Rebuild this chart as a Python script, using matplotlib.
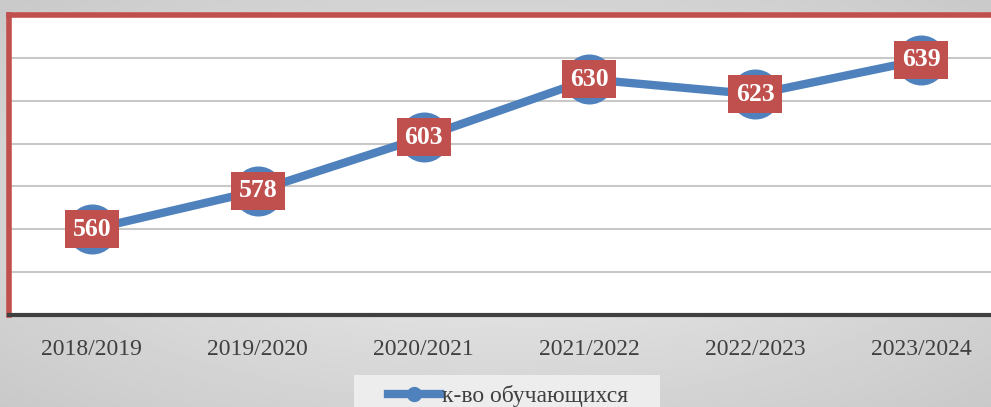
import numpy as np
import matplotlib.pyplot as plt

years = ['2018/2019', '2019/2020', '2020/2021', '2021/2022', '2022/2023', '2023/2024']
students = [560, 578, 603, 630, 623, 639]
series_name = 'к-во обучающихся'

blue = '#4F81BD'
red = '#C0504D'

plt.rcParams['font.family'] = ['Liberation Serif', 'DejaVu Serif']

fig = plt.figure(figsize=(9.91, 4.07), dpi=100)

# gray radial background
bg = fig.add_axes([0, 0, 1, 1], zorder=0)
yy, xx = np.mgrid[0:1:200j, 0:1:400j]
r = np.sqrt(((xx - 0.5) / 0.9) ** 2 + ((yy - 0.5) / 0.9) ** 2)
bg.imshow(0.93 - 0.18 * r, cmap='gray', vmin=0, vmax=1, aspect='auto', extent=[0, 1, 0, 1])
bg.axis('off')

# legend backing box
fig.patches.append(plt.Rectangle((354 / 991, 0), 306 / 991, 32 / 407, transform=fig.transFigure,
                                 facecolor='#EDEDED', edgecolor='none', zorder=1))

ax = fig.add_axes([9 / 991, 1 - 315 / 407, 995 / 991, 300 / 407], zorder=2)
ax.set_facecolor('white')
x = np.arange(len(years))
ax.plot(x, students, color=blue, linewidth=6, marker='o', markersize=35,
        solid_capstyle='round', zorder=3)
for xi, v in zip(x, students):
    ax.text(xi, v, str(v), ha='center', va='center', color='white', fontsize=18.5,
            fontweight='bold', zorder=4,
            bbox=dict(boxstyle='square,pad=0.3', facecolor=red, edgecolor='none'))

ax.set_xlim(-0.5, len(years) - 0.5)
ax.set_ylim(520, 660)
ax.set_yticks(np.arange(540, 661, 20))
ax.yaxis.grid(True, color='#C8C8C8', linewidth=1.5)
ax.set_axisbelow(True)
ax.tick_params(axis='y', left=False, labelleft=False)
ax.set_xticks(x)
ax.set_xticklabels(years, fontsize=17, color='#404040')
ax.tick_params(axis='x', length=0, pad=17)
for s in ['left', 'top', 'right']:
    ax.spines[s].set_color(red)
    ax.spines[s].set_linewidth(4)
ax.spines['bottom'].set_color('#404040')
ax.spines['bottom'].set_linewidth(3)

fig.legend([plt.Line2D([], [], color=blue, linewidth=6, marker='o', markersize=10)], [series_name],
           loc='center', bbox_to_anchor=(508 / 991, 11 / 407), frameon=False, fontsize=17,
           handlelength=2.2, handletextpad=0.1, labelcolor='#404040')

fig.savefig('out.png', dpi=100)
